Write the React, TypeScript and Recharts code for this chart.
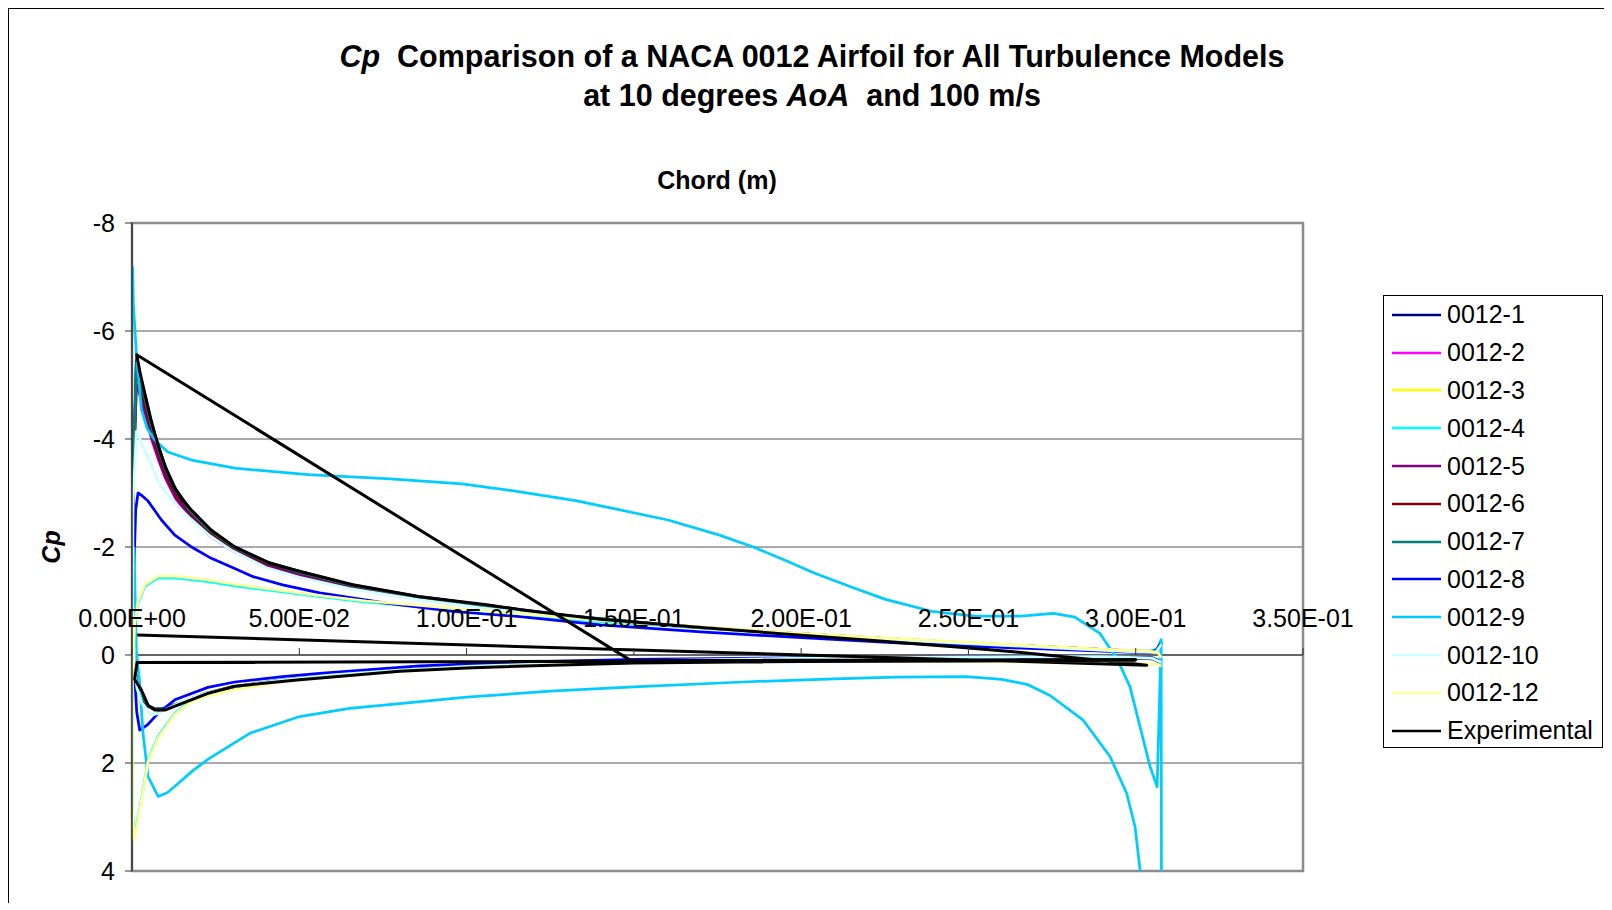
import {
  LineChart,
  Line,
  XAxis,
  YAxis,
  CartesianGrid,
  ReferenceArea,
  ReferenceLine,
  Legend,
} from "recharts"

// [chord position (m), Cp]; upper = suction side, lower = pressure side, both LE -> TE
const navyUpper = [[0.0003, -3.2], [0.0013, -5.5], [0.0025, -5.15], [0.004, -4.78], [0.006, -4.25], [0.008, -3.85], [0.01, -3.48], [0.013, -3.08], [0.017, -2.73], [0.023, -2.34], [0.03, -2.03], [0.04, -1.73], [0.05, -1.55], [0.065, -1.31], [0.085, -1.09], [0.105, -0.93], [0.13, -0.73], [0.16, -0.56], [0.19, -0.42], [0.22, -0.31], [0.25, -0.21], [0.28, -0.12], [0.3, -0.06], [0.306, -0.06], [0.3077, -0.22]]
const navyLower = [[0.0002, -1.0], [0.0008, 0.2], [0.0015, 0.55], [0.003, 0.8], [0.005, 0.95], [0.007, 1.0], [0.01, 0.99], [0.015, 0.88], [0.022, 0.72], [0.03, 0.6], [0.045, 0.47], [0.06, 0.38], [0.08, 0.29], [0.1, 0.22], [0.13, 0.15], [0.16, 0.11], [0.2, 0.07], [0.25, 0.05], [0.29, 0.04], [0.305, 0.07], [0.3077, 0.15]]

const magentaUpper = [[0.0003, -3.0], [0.0013, -4.98], [0.0025, -4.78], [0.004, -4.43], [0.006, -3.97], [0.008, -3.6], [0.01, -3.27], [0.013, -2.9], [0.017, -2.58], [0.023, -2.22], [0.03, -1.93], [0.04, -1.66], [0.05, -1.48], [0.065, -1.25], [0.085, -1.04], [0.105, -0.88], [0.13, -0.71], [0.16, -0.55], [0.19, -0.43], [0.22, -0.32], [0.25, -0.22], [0.28, -0.13], [0.3, -0.07], [0.306, -0.06], [0.3077, -0.2]]
const magentaLower = [[0.0002, -1.0], [0.0008, 0.23], [0.0015, 0.57], [0.003, 0.82], [0.005, 0.96], [0.007, 1.01], [0.01, 0.99], [0.015, 0.87], [0.022, 0.71], [0.03, 0.59], [0.045, 0.46], [0.06, 0.37], [0.08, 0.28], [0.1, 0.21], [0.13, 0.14], [0.16, 0.1], [0.2, 0.06], [0.25, 0.04], [0.29, 0.03], [0.305, 0.06], [0.3077, 0.14]]

const yellowUpper = [[0.0003, -3.0], [0.0013, -5.1], [0.0025, -4.88], [0.004, -4.52], [0.006, -4.04], [0.008, -3.66], [0.01, -3.32], [0.013, -2.95], [0.017, -2.62], [0.023, -2.26], [0.03, -1.96], [0.04, -1.68], [0.05, -1.5], [0.065, -1.27], [0.085, -1.06], [0.105, -0.9], [0.13, -0.72], [0.16, -0.56], [0.19, -0.43], [0.22, -0.32], [0.25, -0.22], [0.28, -0.13], [0.3, -0.07], [0.306, -0.06], [0.3077, -0.26]]
const yellowLower = [[0.0002, -1.0], [0.0008, 0.22], [0.0015, 0.56], [0.003, 0.81], [0.005, 0.96], [0.007, 1.01], [0.01, 1.0], [0.015, 0.88], [0.022, 0.72], [0.03, 0.6], [0.045, 0.46], [0.06, 0.37], [0.08, 0.28], [0.1, 0.21], [0.13, 0.14], [0.16, 0.1], [0.2, 0.06], [0.25, 0.04], [0.29, 0.03], [0.305, 0.06], [0.3077, 0.13]]

const cyanUpper = [[0.0001, 0.4], [0.0008, -0.55], [0.0018, -0.96], [0.0038, -1.27], [0.0078, -1.43], [0.0128, -1.43], [0.0227, -1.36], [0.0307, -1.28], [0.045, -1.17], [0.0561, -1.08], [0.07, -0.98], [0.086, -0.9], [0.1, -0.82], [0.116, -0.74], [0.14, -0.62], [0.17, -0.5], [0.2, -0.39], [0.23, -0.29], [0.26, -0.19], [0.29, -0.1], [0.304, -0.06], [0.3065, -0.12], [0.3077, -0.3]]
const cyanLower = [[0.0001, 1.5], [0.0001, 2.8], [0.0006, 3.39], [0.0028, 2.69], [0.0048, 1.94], [0.0078, 1.51], [0.0128, 1.08], [0.0178, 0.84], [0.0237, 0.72], [0.0307, 0.62], [0.045, 0.48], [0.06, 0.38], [0.08, 0.29], [0.1, 0.22], [0.13, 0.15], [0.16, 0.1], [0.2, 0.06], [0.25, 0.04], [0.29, 0.03], [0.305, 0.05], [0.3077, 0.12]]

const purpleUpper = [[0.0003, -3.0], [0.0013, -5.02], [0.0025, -4.82], [0.004, -4.47], [0.006, -4.0], [0.008, -3.62], [0.01, -3.29], [0.013, -2.92], [0.017, -2.6], [0.023, -2.24], [0.03, -1.94], [0.04, -1.67], [0.05, -1.49], [0.065, -1.26], [0.085, -1.05], [0.105, -0.89], [0.13, -0.71], [0.16, -0.55], [0.19, -0.43], [0.22, -0.32], [0.25, -0.22], [0.28, -0.13], [0.3, -0.07], [0.306, -0.06], [0.3077, -0.22]]
const purpleLower = [[0.0002, -1.0], [0.0008, 0.23], [0.0015, 0.57], [0.003, 0.82], [0.005, 0.96], [0.007, 1.01], [0.01, 0.99], [0.015, 0.87], [0.022, 0.71], [0.03, 0.59], [0.045, 0.46], [0.06, 0.37], [0.08, 0.28], [0.1, 0.21], [0.13, 0.14], [0.16, 0.1], [0.2, 0.06], [0.25, 0.04], [0.29, 0.03], [0.305, 0.06], [0.3077, 0.14]]

const maroonUpper = [[0.0003, -3.1], [0.0013, -5.25], [0.0025, -4.98], [0.004, -4.62], [0.006, -4.12], [0.008, -3.73], [0.01, -3.38], [0.013, -3.0], [0.017, -2.66], [0.023, -2.29], [0.03, -1.99], [0.04, -1.7], [0.05, -1.52], [0.065, -1.29], [0.085, -1.07], [0.105, -0.91], [0.13, -0.72], [0.16, -0.56], [0.19, -0.43], [0.22, -0.32], [0.25, -0.22], [0.28, -0.13], [0.3, -0.07], [0.306, -0.06], [0.3077, -0.24]]
const maroonLower = [[0.0002, -1.0], [0.0008, 0.21], [0.0015, 0.56], [0.003, 0.81], [0.005, 0.95], [0.007, 1.0], [0.01, 0.99], [0.015, 0.88], [0.022, 0.72], [0.03, 0.6], [0.045, 0.47], [0.06, 0.37], [0.08, 0.28], [0.1, 0.21], [0.13, 0.15], [0.16, 0.1], [0.2, 0.07], [0.25, 0.05], [0.29, 0.04], [0.305, 0.06], [0.3077, 0.14]]

const tealUpper = [[0.0003, -3.1], [0.0013, -5.4], [0.0025, -5.08], [0.004, -4.72], [0.006, -4.2], [0.008, -3.8], [0.01, -3.44], [0.013, -3.05], [0.017, -2.7], [0.023, -2.32], [0.03, -2.01], [0.04, -1.72], [0.05, -1.53], [0.065, -1.3], [0.085, -1.08], [0.105, -0.92], [0.13, -0.73], [0.16, -0.56], [0.19, -0.43], [0.22, -0.32], [0.25, -0.22], [0.28, -0.13], [0.3, -0.07], [0.306, -0.07], [0.3077, -0.25]]
const tealLower = [[0.0002, -1.0], [0.0008, 0.22], [0.0015, 0.56], [0.003, 0.81], [0.005, 0.95], [0.007, 1.0], [0.01, 0.98], [0.015, 0.87], [0.022, 0.71], [0.03, 0.59], [0.045, 0.46], [0.06, 0.37], [0.08, 0.28], [0.1, 0.21], [0.13, 0.14], [0.16, 0.1], [0.2, 0.06], [0.25, 0.04], [0.29, 0.03], [0.305, 0.06], [0.3077, 0.14]]

const blueUpper = [[0.0004, -1.2], [0.0011, -2.69], [0.0018, -3.0], [0.003, -2.95], [0.0048, -2.85], [0.0088, -2.5], [0.0128, -2.22], [0.0178, -2.0], [0.0237, -1.79], [0.0307, -1.6], [0.0362, -1.45], [0.045, -1.3], [0.0561, -1.15], [0.076, -0.96], [0.096, -0.81], [0.116, -0.71], [0.14, -0.56], [0.17, -0.43], [0.2, -0.32], [0.23, -0.22], [0.26, -0.14], [0.29, -0.07], [0.304, -0.04], [0.3063, -0.09], [0.3077, -0.22]]
const blueLower = [[0.0003, -0.5], [0.001, 0.6], [0.0014, 1.05], [0.0023, 1.39], [0.0045, 1.3], [0.0078, 1.08], [0.0128, 0.83], [0.0227, 0.6], [0.0307, 0.5], [0.045, 0.4], [0.0561, 0.34], [0.086, 0.2], [0.1159, 0.13], [0.15, 0.08], [0.2, 0.05], [0.25, 0.04], [0.29, 0.04], [0.305, 0.05], [0.3077, 0.12]]

const skyUpper = [[0.0002, -7.2], [0.0004, -6.5], [0.0013, -5.6], [0.0028, -4.55], [0.0045, -4.2], [0.0068, -3.98], [0.0107, -3.76], [0.0178, -3.61], [0.0307, -3.46], [0.0527, -3.34], [0.0772, -3.26], [0.0987, -3.17], [0.1141, -3.04], [0.1326, -2.86], [0.1448, -2.7], [0.1602, -2.5], [0.1756, -2.22], [0.1857, -2.0], [0.195, -1.76], [0.2039, -1.52], [0.215, -1.26], [0.2252, -1.03], [0.239, -0.81], [0.2519, -0.72], [0.2657, -0.72], [0.2754, -0.77], [0.2818, -0.7], [0.2893, -0.4], [0.2946, 0.09], [0.2983, 0.59], [0.3013, 1.33], [0.3043, 2.07], [0.3064, 2.44], [0.3076, -0.28]]
const skyLower = [[0.0006, -2.0], [0.0013, -0.09], [0.0023, 0.52], [0.0033, 1.45], [0.0048, 2.25], [0.0078, 2.62], [0.0105, 2.55], [0.0138, 2.38], [0.018, 2.15], [0.023, 1.92], [0.0352, 1.45], [0.0501, 1.14], [0.065, 0.99], [0.08, 0.9], [0.1, 0.78], [0.125, 0.67], [0.15, 0.59], [0.1825, 0.5], [0.21, 0.44], [0.2283, 0.41], [0.2493, 0.4], [0.26, 0.45], [0.2678, 0.55], [0.2744, 0.75], [0.2842, 1.2], [0.2923, 1.88], [0.2973, 2.56], [0.2998, 3.18], [0.3013, 3.98], [0.3045, 6.5], [0.3078, 9.0]]

const paleCyanUpper = [[0.0003, -2.8], [0.0013, -4.14], [0.0025, -3.98], [0.004, -3.76], [0.006, -3.5], [0.008, -3.2], [0.01, -3.02], [0.013, -2.8], [0.017, -2.55], [0.023, -2.22], [0.03, -1.93], [0.04, -1.62], [0.05, -1.44], [0.065, -1.23], [0.085, -1.03], [0.105, -0.87], [0.13, -0.7], [0.16, -0.55], [0.19, -0.42], [0.22, -0.31], [0.25, -0.21], [0.28, -0.12], [0.3, -0.06], [0.306, -0.05], [0.3077, -0.2]]
const paleCyanLower = [[0.0002, -1.0], [0.0008, 0.25], [0.0015, 0.62], [0.003, 0.9], [0.0058, 1.11], [0.008, 1.08], [0.011, 0.98], [0.015, 0.86], [0.022, 0.71], [0.03, 0.59], [0.045, 0.46], [0.06, 0.37], [0.08, 0.28], [0.1, 0.21], [0.13, 0.15], [0.16, 0.1], [0.2, 0.06], [0.25, 0.04], [0.29, 0.03], [0.305, 0.06], [0.3077, 0.14]]

const paleYellowUpper = [[0.0001, 0.35], [0.0008, -0.58], [0.0018, -0.99], [0.0038, -1.3], [0.0078, -1.46], [0.0128, -1.46], [0.0227, -1.39], [0.0307, -1.31], [0.045, -1.19], [0.0561, -1.1], [0.07, -1.0], [0.086, -0.92], [0.1, -0.84], [0.116, -0.76], [0.14, -0.64], [0.17, -0.52], [0.2, -0.4], [0.23, -0.3], [0.26, -0.2], [0.29, -0.11], [0.304, -0.07], [0.3065, -0.05], [0.3077, 0.05]]
const paleYellowLower = [[0.0001, 1.55], [0.0001, 2.85], [0.0006, 3.43], [0.0028, 2.72], [0.0048, 1.97], [0.0078, 1.54], [0.0128, 1.1], [0.0178, 0.86], [0.0237, 0.74], [0.0307, 0.64], [0.045, 0.5], [0.06, 0.4], [0.08, 0.31], [0.1, 0.24], [0.13, 0.17], [0.16, 0.13], [0.2, 0.11], [0.25, 0.12], [0.29, 0.14], [0.305, 0.17], [0.3077, 0.2]]

const expUpper = [[0.0014, -5.56], [0.0025, -5.2], [0.0038, -4.85], [0.0055, -4.4], [0.0068, -4.1], [0.0085, -3.75], [0.01, -3.48], [0.0125, -3.12], [0.015, -2.88], [0.0178, -2.68], [0.0237, -2.31], [0.0307, -2.0], [0.0412, -1.7], [0.05, -1.55], [0.066, -1.3], [0.086, -1.08], [0.106, -0.93], [0.116, -0.84], [0.14, -0.66], [0.17, -0.51], [0.193, -0.4], [0.2235, -0.26], [0.2465, -0.15], [0.2634, -0.06], [0.28, 0.04], [0.2933, 0.12], [0.3033, 0.19]]
const expLower = [[0.0008, 0.45], [0.0028, 0.65], [0.0048, 0.93], [0.0068, 1.02], [0.0098, 1.02], [0.0148, 0.9], [0.0227, 0.71], [0.0307, 0.58], [0.0352, 0.55], [0.0501, 0.46], [0.08, 0.3], [0.1, 0.24], [0.12, 0.2], [0.15, 0.15], [0.2, 0.12], [0.25, 0.11], [0.3, 0.1]]
const expStart = [[0.0015, -0.37]]
const expJoin = [[0.149, 0.1], [0.3, 0.09], [0.0015, 0.14]]

const X_TICKS = [0, 0.05, 0.1, 0.15, 0.2, 0.25, 0.3, 0.35]
const Y_TICKS = [-8, -6, -4, -2, 0, 2, 4]

const FONT = "'Liberation Sans', Arial, sans-serif"

const toPts = (rows: number[][]) => rows.map(([x, cp]) => ({ x, cp }))
const rev = (rows: number[][]) => rows.slice().reverse()

const series = [
  { name: "0012-1", color: "#000080", rows: [...rev(navyUpper), ...navyLower] },
  { name: "0012-2", color: "#FF00FF", rows: [...rev(magentaUpper), ...magentaLower] },
  { name: "0012-3", color: "#FFFF00", rows: [...rev(yellowUpper), ...yellowLower] },
  { name: "0012-4", color: "#00FFFF", rows: [...rev(cyanUpper), ...cyanLower] },
  { name: "0012-5", color: "#800080", rows: [...rev(purpleUpper), ...purpleLower] },
  { name: "0012-6", color: "#800000", rows: [...rev(maroonUpper), ...maroonLower] },
  { name: "0012-7", color: "#008080", rows: [...rev(tealUpper), ...tealLower] },
  { name: "0012-8", color: "#0000FF", rows: [...rev(blueUpper), ...blueLower] },
  { name: "0012-9", color: "#00CCFF", rows: [...skyUpper, ...rev(skyLower)] },
  { name: "0012-10", color: "#CCFFFF", rows: [...rev(paleCyanUpper), ...paleCyanLower] },
  { name: "0012-12", color: "#FFFF99", rows: [...rev(paleYellowUpper), ...paleYellowLower] },
  { name: "Experimental", color: "#000000", rows: [...expStart, ...rev(expUpper), ...expJoin, ...expLower] },
]
const seriesOrder = series.map((s) => s.name)

// layout
const W = 1596
const H = 894
const MARGIN = { top: 214, right: 302, bottom: 30, left: 23 }
const PLOT_H = H - MARGIN.top - MARGIN.bottom - 2
const ZERO_Y = MARGIN.top + (PLOT_H * (0 - Y_TICKS[0])) / (Y_TICKS[Y_TICKS.length - 1] - Y_TICKS[0])

const sci = (v: number) =>
  v.toExponential(2).toUpperCase().replace(/E([+-])(\d)$/, "E$10$2")

// x labels sit on the Cp = 0 line, like the Excel original
const XTick = (props: any) => {
  const { x, payload } = props
  return (
    <g>
      <line x1={x} x2={x} y1={ZERO_Y} y2={ZERO_Y - 7} stroke="#333" />
      <text x={x} y={ZERO_Y - 28} textAnchor="middle" fontSize={25} fill="#000" fontFamily={FONT}>
        {sci(payload.value)}
      </text>
    </g>
  )
}

const CpLabel = () => {
  const cx = 42
  const cy = MARGIN.top + PLOT_H / 2
  return (
    <text
      x={cx}
      y={cy}
      transform={`rotate(-90 ${cx} ${cy})`}
      textAnchor="middle"
      dominantBaseline="central"
      fontSize={25}
      fontWeight="bold"
      fontStyle="italic"
      fontFamily={FONT}
    >
      Cp
    </text>
  )
}

const LegendBox = ({ payload }: any) => {
  const items = (payload || [])
    .slice()
    .sort((a: any, b: any) => seriesOrder.indexOf(a.value) - seriesOrder.indexOf(b.value))
  return (
    <div
      style={{
        width: 220,
        height: 453,
        border: "1px solid #000",
        boxSizing: "border-box",
        background: "#fff",
        fontFamily: FONT,
      }}
    >
      {items.map((p: any) => (
        <div key={p.value} style={{ height: 37.8, display: "flex", alignItems: "center" }}>
          <svg width={49} height={4} style={{ marginLeft: 8 }}>
            <line x1={0} x2={49} y1={2} y2={2} stroke={p.color} strokeWidth={2.5} />
          </svg>
          <span style={{ marginLeft: 6, fontSize: 25, color: "#000" }}>{p.value}</span>
        </div>
      ))}
    </div>
  )
}

const App = () => {
  return (
    <div
      style={{
        position: "relative",
        width: W,
        height: H,
        borderTop: "1px solid #000",
        borderLeft: "1px solid #000",
        overflow: "hidden",
        fontFamily: FONT,
        background: "#fff",
      }}
    >
      <div
        style={{
          position: "absolute",
          left: 303,
          top: 28,
          width: 1000,
          textAlign: "center",
          fontSize: 30.5,
          fontWeight: "bold",
          lineHeight: "39px",
        }}
      >
        <div>
          <i>Cp</i>&nbsp; Comparison of a NACA 0012 Airfoil for All Turbulence Models
        </div>
        <div>
          at 10 degrees <i>AoA</i>&nbsp; and 100 m/s
        </div>
      </div>
      <div
        style={{
          position: "absolute",
          left: 508,
          top: 156,
          width: 400,
          textAlign: "center",
          fontSize: 25,
          fontWeight: "bold",
          lineHeight: "30px",
        }}
      >
        Chord (m)
      </div>

      <LineChart width={W} height={H} margin={MARGIN}>
        <CartesianGrid horizontal vertical={false} stroke="#555" />
        <ReferenceArea x1={0} x2={0.35} y1={-8} y2={4} fill="none" stroke="#8c8c8c" strokeWidth={2.5} />
        <XAxis
          type="number"
          dataKey="x"
          domain={[0, 0.35]}
          ticks={X_TICKS}
          interval={0}
          allowDataOverflow
          height={2}
          axisLine={false}
          tickLine={false}
          tick={<XTick />}
        />
        <YAxis
          type="number"
          domain={[-8, 4]}
          ticks={Y_TICKS}
          interval={0}
          reversed
          allowDataOverflow
          width={100}
          tickSize={7}
          tickMargin={10}
          tick={{ fontSize: 25, fill: "#000", fontFamily: FONT }}
          axisLine={{ stroke: "#333", strokeWidth: 1.5 }}
          tickLine={{ stroke: "#333" }}
          label={CpLabel}
        />
        <ReferenceLine y={0} stroke="#222" />
        {series.map((s) => (
          <Line
            key={s.name}
            name={s.name}
            data={toPts(s.rows)}
            dataKey="cp"
            type="linear"
            stroke={s.color}
            strokeWidth={s.name === "Experimental" ? 3 : 2.75}
            strokeLinejoin="round"
            dot={false}
            activeDot={false}
            legendType="plainline"
            isAnimationActive={false}
          />
        ))}
        <Legend
          layout="vertical"
          align="center"
          verticalAlign="middle"
          wrapperStyle={{ left: 1374, top: 286, width: 220 }}
          content={<LegendBox />}
        />
      </LineChart>
    </div>
  )
}

export default App
